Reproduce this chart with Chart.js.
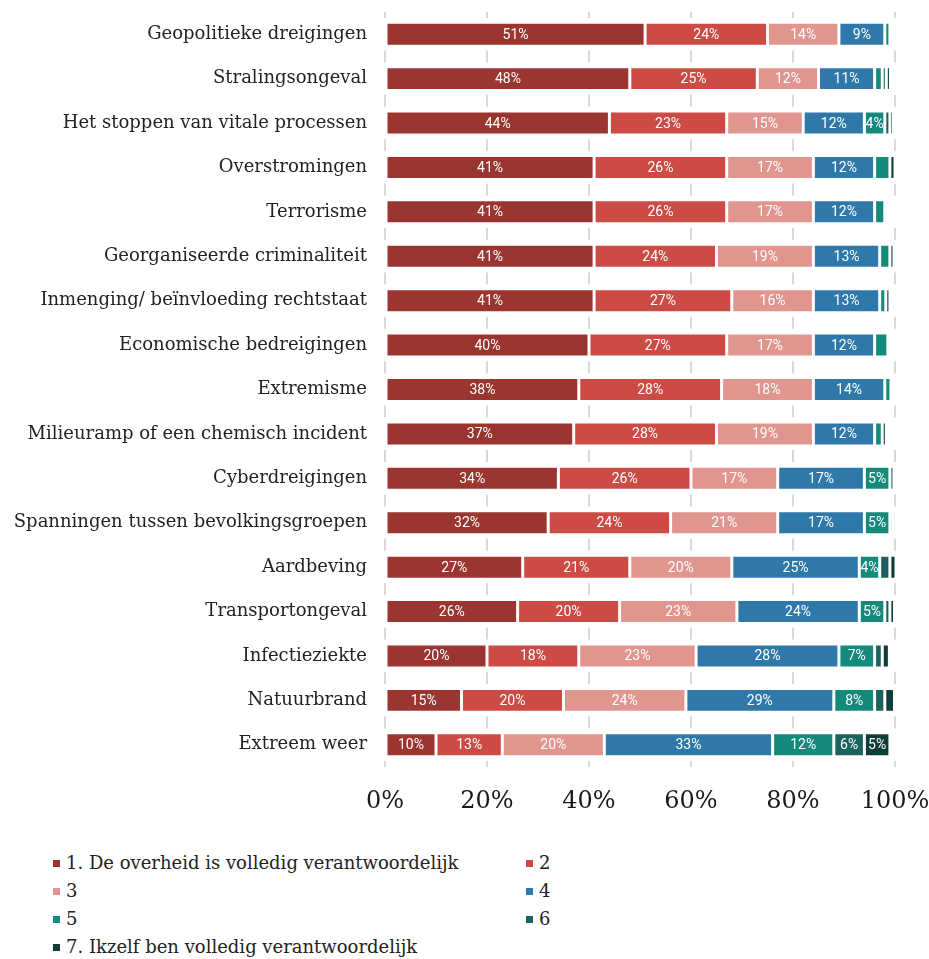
<!DOCTYPE html>
<html lang="nl">
<head>
<meta charset="utf-8">
<title>Verantwoordelijkheid per dreiging</title>
<script src="https://cdn.jsdelivr.net/npm/chart.js@4.4.1/dist/chart.umd.min.js"></script>
<style>
  html, body { margin: 0; padding: 0; background: #fff; }
  #wrap { position: relative; width: 929px; height: 959px; }
  #chartBox { position: absolute; left: 0; top: 0; width: 929px; height: 830px; }
  #legend {
    position: absolute; left: 53px; top: 849px;
    display: grid; grid-template-columns: 473px 200px; row-gap: 2px;
    font-family: "DejaVu Serif", serif; font-size: 18px; color: #222;
  }
  #legend .item { display: flex; align-items: center; height: 26px; white-space: nowrap; }
  #legend .box { width: 7px; height: 7px; margin-right: 6px; margin-top: 3px; }
</style>
</head>
<body>
<div id="wrap">
  <div id="chartBox"><canvas id="riskChart"></canvas></div>
  <div id="legend"></div>
</div>
<script>
// Dreigingen (van boven naar beneden)
const threats = [
  'Geopolitieke dreigingen', 'Stralingsongeval', 'Het stoppen van vitale processen',
  'Overstromingen', 'Terrorisme', 'Georganiseerde criminaliteit',
  'Inmenging/ beïnvloeding rechtstaat', 'Economische bedreigingen', 'Extremisme',
  'Milieuramp of een chemisch incident', 'Cyberdreigingen',
  'Spanningen tussen bevolkingsgroepen', 'Aardbeving', 'Transportongeval',
  'Infectieziekte', 'Natuurbrand', 'Extreem weer'
];

const seriesNames = [
  '1. De overheid is volledig verantwoordelijk', '2', '3', '4', '5', '6',
  '7. Ikzelf ben volledig verantwoordelijk'
];

// percentages per antwoordcategorie
const score1 = [51, 48, 44, 41, 41, 41, 41, 40, 38, 37, 34, 32, 27, 26, 20, 15, 10];
const score2 = [24, 25, 23, 26, 26, 24, 27, 27, 28, 28, 26, 24, 21, 20, 18, 20, 13];
const score3 = [14, 12, 15, 17, 17, 19, 16, 17, 18, 19, 17, 21, 20, 23, 23, 24, 20];
const score4 = [9, 11, 12, 12, 12, 13, 13, 12, 14, 12, 17, 17, 25, 24, 28, 29, 33];
const score5 = [1, 1.5, 4, 3, 2, 2, 1.2, 2.6, 1.2, 1.5, 5, 5, 4, 5, 7, 8, 12];
const score6 = [0, 0.8, 1, 0, 0, 0, 0, 0.6, 0, 0, 0.8, 0.6, 2, 1, 1.5, 2, 6];
const score7 = [0, 0.8, 0.7, 1, 0, 0.8, 0.8, 0, 0, 0.8, 0, 0.6, 1.2, 0.9, 1.4, 1.9, 5];

const xTicks = [0, 20, 40, 60, 80, 100];

const colors = ['#9b3530', '#cc4b44', '#e0958f', '#2f79aa', '#138a7c', '#1a625c', '#0e3e39'];
const allScores = [score1, score2, score3, score4, score5, score6, score7];

const serif = '"DejaVu Serif", serif';

// waarde-labels midden in de segmenten
const segmentLabels = {
  id: 'segmentLabels',
  afterDatasetsDraw(chart) {
    const ctx = chart.ctx;
    ctx.save();
    ctx.font = '14px Roboto';
    ctx.fillStyle = '#ffffff';
    ctx.textAlign = 'center';
    ctx.textBaseline = 'middle';
    chart.data.datasets.forEach((ds, i) => {
      const meta = chart.getDatasetMeta(i);
      meta.data.forEach((bar, j) => {
        const v = ds.data[j];
        if (v < 3.5) return;
        const p = bar.getProps(['x', 'y', 'base'], true);
        ctx.fillText(Math.round(v) + '%', (p.x + p.base) / 2, p.y + 1);
      });
    });
    ctx.restore();
  }
};

const ctx = document.getElementById('riskChart').getContext('2d');
const chart = new Chart(ctx, {
  type: 'bar',
  data: {
    labels: threats,
    datasets: seriesNames.map((name, i) => ({
      label: name,
      data: allScores[i],
      backgroundColor: colors[i],
      borderColor: '#ffffff',
      borderWidth: 1.5,
      borderSkipped: false,
      barPercentage: 0.54,
      categoryPercentage: 1
    }))
  },
  options: {
    indexAxis: 'y',
    responsive: true,
    maintainAspectRatio: false,
    animation: false,
    layout: { padding: { left: 10, right: 34, top: 12, bottom: 0 } },
    plugins: {
      legend: { display: false },
      tooltip: { enabled: false }
    },
    scales: {
      x: {
        stacked: true,
        min: 0,
        max: 100,
        afterBuildTicks: (scale) => { scale.ticks = xTicks.map(v => ({ value: v })); },
        afterFit: (scale) => {
          scale.height = 63;
          scale.paddingLeft = 0;
          scale.paddingRight = 0;
        },
        grid: { color: '#d9d9d9', lineWidth: 2, drawTicks: false },
        border: { display: false, dash: [12, 32.4], dashOffset: 6 },
        ticks: {
          color: '#1a1a1a',
          padding: 20,
          font: { family: serif, size: 24 },
          callback: v => v + '%'
        }
      },
      y: {
        stacked: true,
        afterFit: (scale) => {
          scale.width = 375;
          scale.paddingTop = 0;
          scale.paddingBottom = 0;
        },
        grid: { display: false, drawTicks: false },
        border: { display: false },
        ticks: {
          color: '#222',
          padding: 18,
          font: { family: serif, size: 18 }
        }
      }
    }
  },
  plugins: [segmentLabels]
});

// legenda in twee kolommen
const legendEl = document.getElementById('legend');
chart.data.datasets.forEach(ds => {
  const item = document.createElement('div');
  item.className = 'item';
  const box = document.createElement('span');
  box.className = 'box';
  box.style.background = ds.backgroundColor;
  const txt = document.createElement('span');
  txt.textContent = ds.label;
  item.appendChild(box);
  item.appendChild(txt);
  legendEl.appendChild(item);
});
</script>
</body>
</html>
